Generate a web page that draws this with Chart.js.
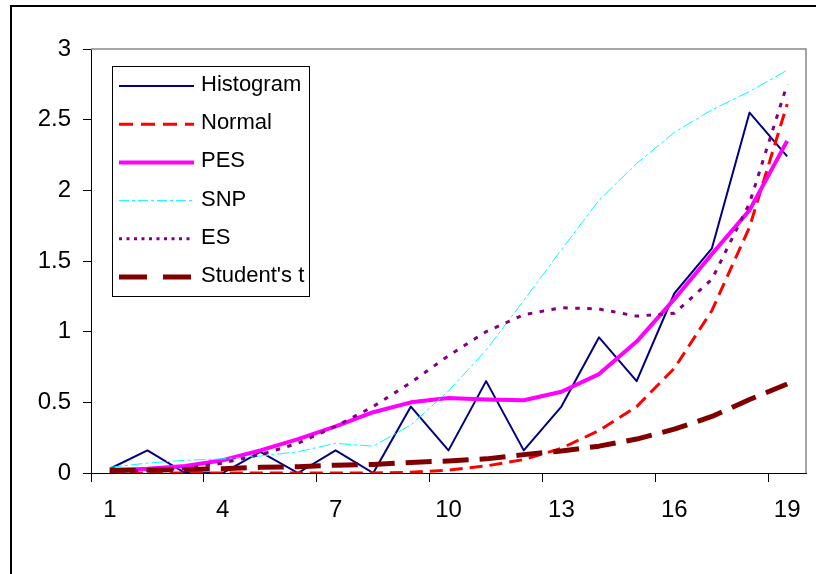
<!DOCTYPE html>
<html>
<head>
<meta charset="utf-8">
<script src="https://cdn.jsdelivr.net/npm/chart.js@4.4.0/dist/chart.umd.min.js"></script>
<style>
  html, body { margin: 0; padding: 0; background: #fff; }
  #wrap { position: relative; width: 816px; height: 574px; }
</style>
</head>
<body>
<div id="wrap"><canvas id="c" width="816" height="574"></canvas></div>
<script>
const categories = ['1','2','3','4','5','6','7','8','9','10','11','12','13','14','15','16','17','18','19'];
const seriesNames = ['Histogram', 'Normal', 'PES', 'SNP', 'ES', "Student's t"];
const histogram = [0.03,0.16,0,0,0.15,0,0.16,0,0.47,0.16,0.65,0.16,0.47,0.96,0.65,1.27,1.59,2.55,2.24];
const normal    = [0,0,0,0,0,0,0,0,0.005,0.02,0.05,0.095,0.175,0.30,0.47,0.74,1.15,1.74,2.61];
const pes       = [0.02,0.03,0.05,0.09,0.16,0.24,0.33,0.43,0.50,0.53,0.52,0.515,0.575,0.70,0.93,1.23,1.55,1.86,2.35];
const snp       = [0.04,0.07,0.09,0.10,0.12,0.15,0.21,0.19,0.34,0.58,0.87,1.22,1.58,1.93,2.19,2.41,2.57,2.70,2.85];
const es        = [0.01,0.02,0.03,0.07,0.13,0.21,0.33,0.47,0.64,0.83,1.0,1.12,1.17,1.16,1.11,1.13,1.37,1.91,2.75];
const student   = [0.02,0.02,0.025,0.03,0.04,0.045,0.055,0.06,0.075,0.085,0.10,0.13,0.156,0.19,0.24,0.31,0.40,0.52,0.63];
const yTicks = [0, 0.5, 1, 1.5, 2, 2.5, 3];

const FONT = '"Liberation Sans", Arial, sans-serif';

const styles = [
  { color: '#000080', width: 2, dash: [],            legendDash: [] },
  { color: '#FF0000', width: 3, dash: [13, 7],       legendDash: [14, 8] },
  { color: '#FF00FF', width: 4, dash: [],            legendDash: [] },
  { color: '#00FFFF', width: 1, dash: [12, 3, 3, 3], legendDash: [10, 3, 3, 3] },
  { color: '#800080', width: 3, dash: [4.5, 7.5],    legendDash: [3, 4.5] },
  { color: '#800000', width: 5, dash: [26, 11],      legendDash: [28, 16] }
];
const values = [histogram, normal, pes, snp, es, student];

const datasets = values.map((v, i) => ({
  label: seriesNames[i],
  data: v,
  borderColor: styles[i].color,
  backgroundColor: styles[i].color,
  borderWidth: styles[i].width,
  borderDash: styles[i].dash,
  borderCapStyle: 'butt',
  borderJoinStyle: 'round',
  pointRadius: 0,
  pointHoverRadius: 0,
  tension: 0,
  fill: false,
  order: 5 - i
}));

const framePlugin = {
  id: 'frame',
  beforeDraw(chart) {
    const ctx = chart.ctx;
    ctx.save();
    ctx.fillStyle = '#fff';
    ctx.fillRect(0, 0, chart.width, chart.height);
    ctx.fillStyle = '#000';
    ctx.fillRect(10, 5, 2, chart.height);
    ctx.fillRect(10, 5, chart.width, 2);
    ctx.restore();
  },
  beforeDatasetsDraw(chart) {
    const ctx = chart.ctx, a = chart.chartArea;
    ctx.save();
    ctx.strokeStyle = '#888';
    ctx.lineWidth = 1.5;
    ctx.beginPath();
    ctx.moveTo(a.left, a.top);
    ctx.lineTo(a.right, a.top);
    ctx.lineTo(a.right, a.bottom);
    ctx.stroke();
    ctx.restore();
  }
};

const legendPlugin = {
  id: 'boxLegend',
  afterDraw(chart) {
    const ctx = chart.ctx, a = chart.chartArea;
    const bx = a.left + 21, by = a.top + 17, bw = 197, bh = 230;
    ctx.save();
    ctx.fillStyle = '#fff';
    ctx.fillRect(bx, by, bw, bh);
    ctx.strokeStyle = '#000';
    ctx.lineWidth = 1;
    ctx.strokeRect(bx + 0.5, by + 0.5, bw, bh);
    chart.data.datasets.forEach((ds, i) => {
      const y = by + 20 + i * 38.2;
      ctx.beginPath();
      ctx.strokeStyle = ds.borderColor;
      ctx.lineWidth = ds.borderWidth;
      ctx.setLineDash(styles[i].legendDash);
      ctx.lineCap = 'butt';
      ctx.moveTo(bx + 7, y);
      ctx.lineTo(bx + 82, y);
      ctx.stroke();
      ctx.setLineDash([]);
      ctx.fillStyle = '#000';
      ctx.font = '22px ' + FONT;
      ctx.textBaseline = 'middle';
      ctx.textAlign = 'left';
      ctx.fillText(ds.label, bx + 89, y - 1);
    });
    ctx.restore();
  }
};

new Chart(document.getElementById('c'), {
  type: 'line',
  data: { labels: categories, datasets: datasets },
  options: {
    responsive: false,
    animation: false,
    devicePixelRatio: 1,
    layout: { padding: { top: 49, right: 10, left: 0, bottom: 0 } },
    plugins: { legend: { display: false }, tooltip: { enabled: false } },
    scales: {
      x: {
        type: 'category',
        offset: true,
        grid: {
          offset: true,
          drawOnChartArea: false,
          drawTicks: true,
          tickLength: 9,
          lineWidth: 1,
          color: (ctx) => (ctx.index !== undefined && ctx.index % 3 === 0) ? '#000' : 'rgba(0,0,0,0)'
        },
        border: { display: true, color: '#000', width: 1 },
        ticks: {
          autoSkip: false,
          maxRotation: 0,
          minRotation: 0,
          padding: 14,
          color: '#000',
          font: { family: FONT, size: 24 },
          callback: (val, idx) => (idx % 3 === 0 ? categories[idx] : '')
        },
        afterFit: (s) => { s.height = 101; }
      },
      y: {
        min: 0,
        max: 3,
        afterBuildTicks: (s) => { s.ticks = yTicks.map(v => ({ value: v })); },
        grid: {
          drawOnChartArea: false,
          drawTicks: true,
          tickLength: 8,
          color: '#000'
        },
        border: { display: true, color: '#000', width: 1 },
        ticks: {
          padding: 12,
          color: '#000',
          font: { family: FONT, size: 24 },
          callback: (v) => String(v)
        },
        afterFit: (s) => { s.width = 91; }
      }
    }
  },
  plugins: [framePlugin, legendPlugin]
});
</script>
</body>
</html>
